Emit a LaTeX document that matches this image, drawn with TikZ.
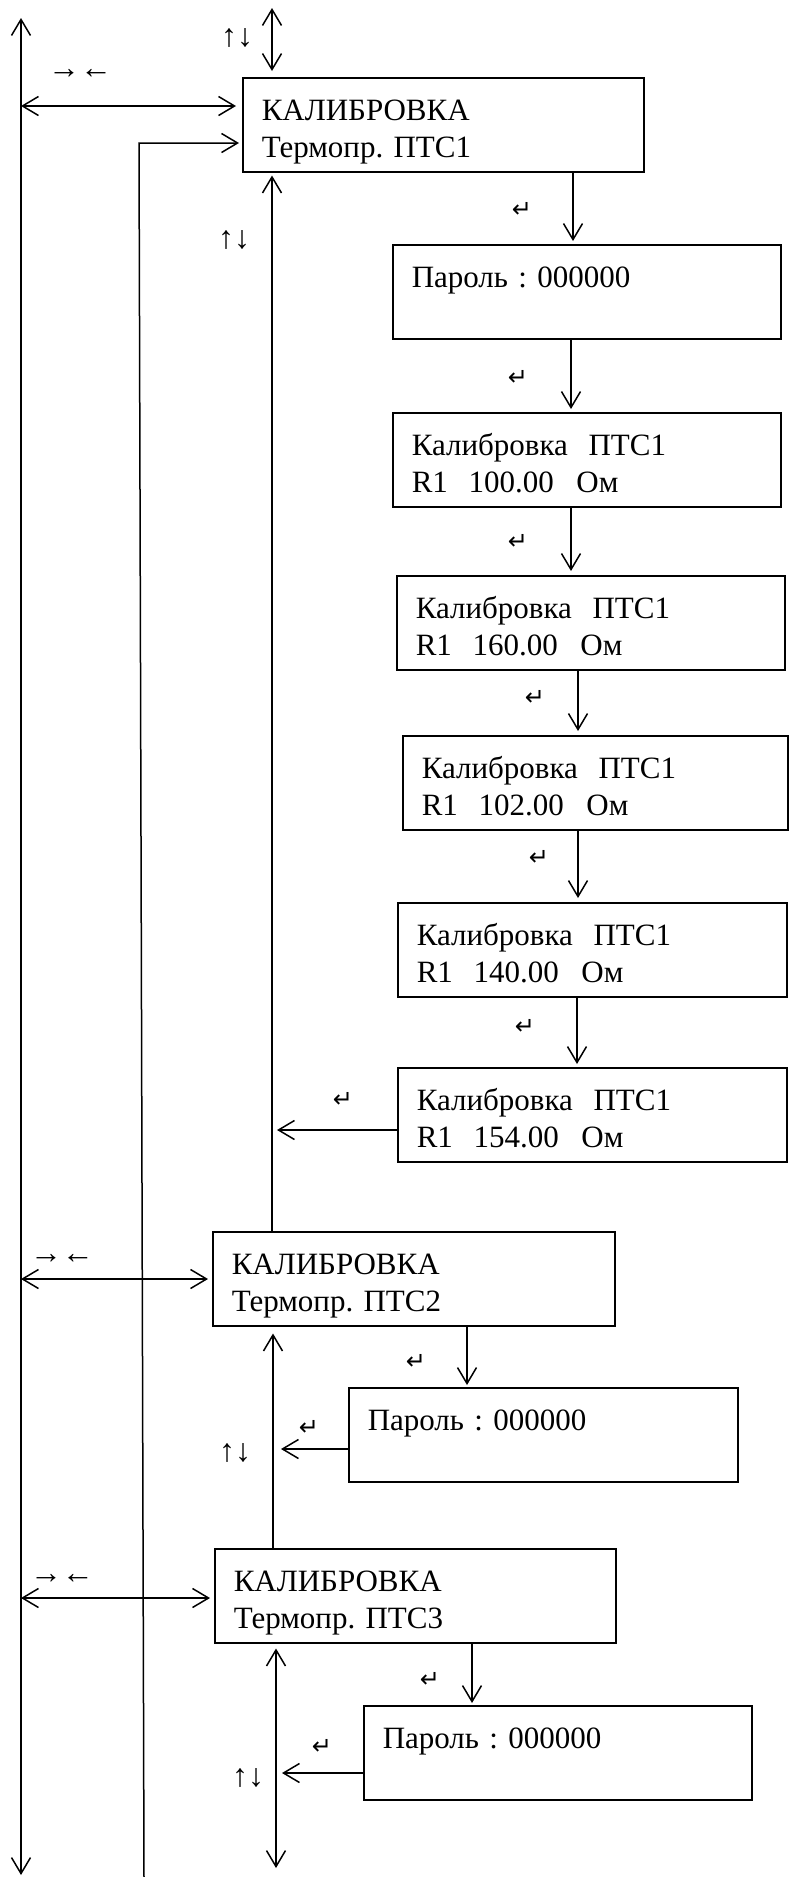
\documentclass[tikz,border=0pt]{standalone}
\usepackage{fontspec}
\setmainfont{Liberation Serif}
\newfontfamily\symfont{DejaVu Sans}
\usetikzlibrary{arrows.meta}
\frenchspacing
\newcommand{\gapom}{~~\hspace{2pt}}
\begin{document}
\begin{tikzpicture}[x=1pt,y=-1pt,
  box/.style={draw, line width=1.5pt, anchor=north west, inner xsep=19pt, inner ysep=0pt,
    text height=43pt, text depth=51pt, align=left, font=\fontsize{31}{37}\selectfont\frenchspacing},
  arr/.style={line width=1.5pt, -{Straight Barb[length=16pt,width=19pt]}},
  dbl/.style={line width=1.5pt, {Straight Barb[length=16pt,width=19pt]}-{Straight Barb[length=16pt,width=19pt]}},
  enter/.style={font=\symfont\fontsize{24}{24}\selectfont, inner sep=0pt},
  keys/.style={font=\fontsize{32}{32}\selectfont, inner sep=0pt},
]
\useasboundingbox (0,0) rectangle (788,1877);

% boxes
\node[box, text width=363pt] (b1) at (242,77) {КАЛИБРОВКА\\Термопр. ПТС1};
\node[box, text width=350pt] (p1) at (392,244) {Пароль : 000000};
\node[box, text width=350pt] (c1) at (392,412) {Калибровка~~ПТС1\\R1~~100.00\gapom Ом};
\node[box, text width=350pt] (c2) at (396,575) {Калибровка~~ПТС1\\R1~~160.00\gapom Ом};
\node[box, text width=347pt] (c3) at (402,735) {Калибровка~~ПТС1\\R1~~102.00\gapom Ом};
\node[box, text width=351pt] (c4) at (397,902) {Калибровка~~ПТС1\\R1~~140.00\gapom Ом};
\node[box, text width=351pt] (c5) at (397,1067) {Калибровка~~ПТС1\\R1~~154.00\gapom Ом};
\node[box, text width=364pt] (q2) at (212,1231) {КАЛИБРОВКА\\Термопр. ПТС2};
\node[box, text width=351pt] (p2) at (348,1387) {Пароль : 000000};
\node[box, text width=363pt] (q3) at (214,1548) {КАЛИБРОВКА\\Термопр. ПТС3};
\node[box, text width=350pt] (p3) at (363,1705) {Пароль : 000000};

% coordinates
\coordinate (Ltop) at (21,18);
\coordinate (Lbot) at (21,1875);
\coordinate (Ttop) at (272,8);
\coordinate (A1) at (21,106);
\coordinate (Mtop) at (139,143);
\coordinate (Mbot) at (144,1877);
\coordinate (J1) at (272,1130);
\coordinate (A2) at (21,1279);
\coordinate (J2) at (272,1449);
\coordinate (A3) at (21,1598);
\coordinate (J3) at (276,1773);
\coordinate (Bend) at (276,1868);

% connectors
\draw[dbl] (Lbot) -- (Ltop);
\draw[dbl, shorten >=6pt] (Ttop) -- (b1.north -| Ttop);
\draw[dbl, shorten >=6pt] (A1) -- (b1.west |- A1);
\draw[arr, shorten >=3pt] (Mbot) -- (Mtop) -- (b1.west |- Mtop);

\draw[arr, shorten >=3pt] (b1.south -| 573,0) -- (p1.north -| 573,0);
\draw[arr, shorten >=3pt] (p1.south -| 571,0) -- (c1.north -| 571,0);
\draw[arr, shorten >=4pt] (c1.south -| 571,0) -- (c2.north -| 571,0);
\draw[arr, shorten >=4pt] (c2.south -| 578,0) -- (c3.north -| 578,0);
\draw[arr, shorten >=4pt] (c3.south -| 578,0) -- (c4.north -| 578,0);
\draw[arr, shorten >=3pt] (c4.south -| 577,0) -- (c5.north -| 577,0);
\draw[arr, shorten >=5pt] (c5.west |- J1) -- (J1);
\draw[arr, shorten >=3pt] (q2.north -| J1) -- (b1.south -| J1);

\draw[dbl, shorten >=4pt] (A2) -- (q2.west |- A2);
\draw[arr, shorten >=2pt] (q2.south -| 467,0) -- (p2.north -| 467,0);
\draw[arr, shorten >=9pt] (p2.west |- J2) -- (J2);
\draw[arr, shorten >=7pt] (q3.north -| 273,0) -- (q2.south -| 273,0);

\draw[dbl, shorten >=4pt] (A3) -- (q3.west |- A3);
\draw[arr, shorten >=2pt] (q3.south -| 472,0) -- (p3.north -| 472,0);
\draw[arr, shorten >=6pt] (p3.west |- J3) -- (J3);
\draw[dbl, shorten <=5pt] (q3.south -| Bend) -- (Bend);

% labels
\node[keys] (u1) at (237,38) {↑↓};
\node[keys] (u2) at (234,240) {↑↓};
\node[keys] (u3) at (235,1453) {↑↓};
\node[keys] (u4) at (248,1778) {↑↓};
\node[keys] (h1) at (80,74) {→←};
\node[keys] (h2) at (62,1259) {→←};
\node[keys] (h3) at (62,1579) {→←};
\node[enter] (e1) at (522,210) {↵};
\node[enter] (e2) at (518,378) {↵};
\node[enter] (e3) at (518,542) {↵};
\node[enter] (e4) at (535,698) {↵};
\node[enter] (e5) at (539,858) {↵};
\node[enter] (e6) at (525,1027) {↵};
\node[enter] (e7) at (343,1100) {↵};
\node[enter] (e8) at (416,1362) {↵};
\node[enter] (e9) at (309,1428) {↵};
\node[enter] (e10) at (430,1680) {↵};
\node[enter] (e11) at (322,1747) {↵};
\end{tikzpicture}
\end{document}
